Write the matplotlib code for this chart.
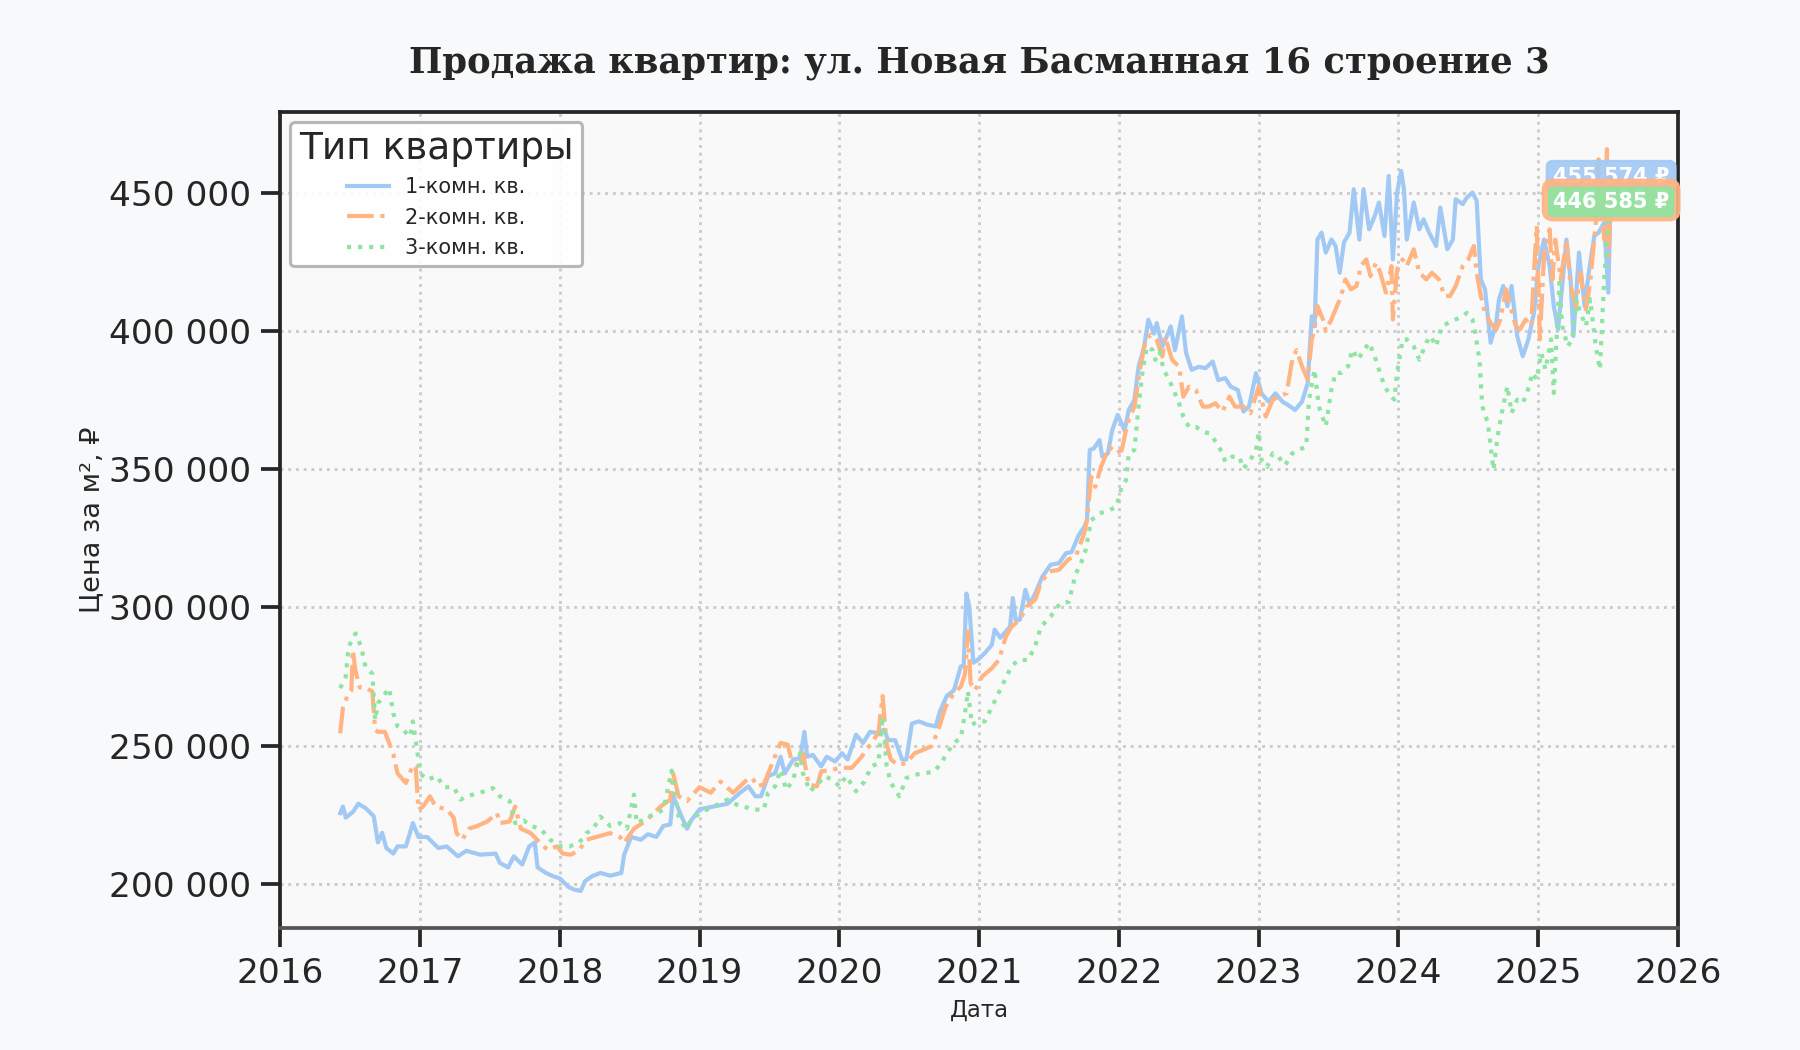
import pandas as pd
import matplotlib
matplotlib.use("Agg")
import matplotlib.pyplot as plt
import matplotlib.dates as mdates
from matplotlib.ticker import FuncFormatter

# --- data (decimal year, price per m2 in thousands RUB) ---
years_1 = [2016.43, 2016.45, 2016.47, 2016.52, 2016.56, 2016.61, 2016.67, 2016.70, 2016.73, 2016.76,
           2016.81, 2016.84, 2016.90, 2016.95, 2016.99, 2017.05, 2017.13, 2017.19, 2017.27, 2017.33,
           2017.43, 2017.54, 2017.57, 2017.63, 2017.67, 2017.73, 2017.78, 2017.82, 2017.84, 2017.90,
           2017.95, 2018.00, 2018.06, 2018.10, 2018.15, 2018.18, 2018.23, 2018.29, 2018.36, 2018.44,
           2018.46, 2018.51, 2018.58, 2018.63, 2018.69, 2018.74, 2018.79, 2018.81, 2018.86, 2018.91,
           2018.94, 2019.00, 2019.10, 2019.20, 2019.29, 2019.35, 2019.40, 2019.44, 2019.49, 2019.54,
           2019.58, 2019.61, 2019.67, 2019.72, 2019.75, 2019.77, 2019.81, 2019.87, 2019.91, 2019.97,
           2020.02, 2020.06, 2020.12, 2020.17, 2020.22, 2020.27, 2020.32, 2020.35, 2020.40, 2020.45,
           2020.48, 2020.52, 2020.57, 2020.63, 2020.69, 2020.72, 2020.77, 2020.82, 2020.87, 2020.89,
           2020.91, 2020.93, 2020.96, 2020.99, 2021.04, 2021.09, 2021.11, 2021.15, 2021.19, 2021.22,
           2021.24, 2021.26, 2021.29, 2021.33, 2021.36, 2021.40, 2021.45, 2021.51, 2021.57, 2021.62,
           2021.66, 2021.71, 2021.75, 2021.77, 2021.79, 2021.82, 2021.86, 2021.88, 2021.92, 2021.95,
           2021.99, 2022.04, 2022.07, 2022.11, 2022.14, 2022.18, 2022.21, 2022.25, 2022.27, 2022.31,
           2022.35, 2022.37, 2022.40, 2022.45, 2022.48, 2022.52, 2022.57, 2022.62, 2022.67, 2022.71,
           2022.76, 2022.80, 2022.85, 2022.89, 2022.93, 2022.98, 2023.02, 2023.07, 2023.12, 2023.17,
           2023.21, 2023.26, 2023.31, 2023.35, 2023.38, 2023.40, 2023.42, 2023.45, 2023.48, 2023.52,
           2023.55, 2023.58, 2023.61, 2023.65, 2023.68, 2023.72, 2023.75, 2023.79, 2023.83, 2023.86,
           2023.90, 2023.93, 2023.96, 2023.99, 2024.02, 2024.04, 2024.06, 2024.11, 2024.15, 2024.18,
           2024.22, 2024.27, 2024.30, 2024.35, 2024.39, 2024.41, 2024.46, 2024.49, 2024.53, 2024.56,
           2024.59, 2024.62, 2024.66, 2024.70, 2024.72, 2024.75, 2024.78, 2024.81, 2024.85, 2024.89,
           2024.93, 2024.97, 2025.00, 2025.04, 2025.08, 2025.11, 2025.14, 2025.17, 2025.20, 2025.23,
           2025.25, 2025.29, 2025.33, 2025.36, 2025.40, 2025.43, 2025.47, 2025.50, 2025.52]
price_1 = [225.6, 228.0, 224.0, 226.0, 229.0, 227.5, 224.5, 215.0, 218.5, 213.0,
           211.0, 213.6, 213.6, 222.0, 217.0, 217.0, 213.0, 213.6, 210.0, 212.0,
           210.6, 211.0, 207.6, 206.0, 210.0, 207.0, 213.6, 215.0, 206.0, 204.0,
           202.8, 202.0, 199.0, 198.0, 197.5, 201.0, 202.8, 204.0, 203.0, 204.0,
           210.6, 217.0, 216.0, 218.0, 217.0, 221.0, 221.5, 232.0, 225.6, 220.0,
           223.0, 227.0, 228.0, 229.0, 233.0, 235.3, 231.7, 231.7, 239.0, 240.0,
           246.0, 240.0, 245.0, 245.5, 255.0, 246.0, 246.7, 242.5, 246.0, 244.3,
           247.3, 245.0, 254.0, 251.0, 255.0, 254.6, 255.8, 252.0, 252.0, 245.0,
           245.0, 258.0, 258.8, 257.6, 257.0, 262.4, 268.0, 270.0, 278.7, 278.7,
           305.0, 300.4, 280.0, 281.0, 283.5, 286.5, 292.0, 289.0, 291.3, 293.0,
           303.4, 295.5, 295.5, 306.4, 301.0, 305.0, 311.0, 315.4, 316.0, 319.6,
           320.0, 326.0, 329.0, 331.5, 356.9, 357.5, 360.5, 354.5, 355.7, 364.0,
           369.6, 364.0, 371.4, 375.0, 387.0, 394.3, 404.0, 399.0, 402.8, 394.3,
           399.0, 401.6, 393.0, 405.2, 392.0, 385.9, 387.0, 386.5, 388.9, 382.2,
           382.9, 379.8, 378.6, 370.8, 372.6, 384.7, 377.4, 374.4, 377.4, 374.4,
           373.2, 371.4, 374.4, 381.0, 405.3, 401.7, 433.0, 435.5, 428.3, 433.0,
           430.7, 421.0, 432.0, 435.5, 451.2, 433.0, 451.2, 436.7, 441.5, 446.4,
           434.3, 456.0, 425.8, 450.0, 457.8, 451.2, 433.0, 446.4, 436.7, 440.3,
           435.5, 430.7, 444.6, 429.5, 433.0, 447.6, 445.8, 448.2, 450.0, 447.0,
           418.6, 415.0, 395.7, 402.9, 411.4, 416.2, 408.9, 416.2, 398.1, 390.8,
           396.9, 406.5, 423.4, 433.0, 423.4, 408.9, 400.5, 416.2, 433.0, 418.6,
           398.1, 428.3, 408.9, 421.0, 434.3, 435.5, 439.1, 413.8, 455.574]

years_2 = [2016.43, 2016.45, 2016.49, 2016.51, 2016.52, 2016.54, 2016.57, 2016.61, 2016.66, 2016.68,
           2016.70, 2016.75, 2016.81, 2016.84, 2016.90, 2016.95, 2016.97, 2016.99, 2017.02, 2017.07,
           2017.11, 2017.19, 2017.24, 2017.26, 2017.30, 2017.35, 2017.41, 2017.48, 2017.55, 2017.57,
           2017.64, 2017.68, 2017.72, 2017.79, 2017.86, 2017.91, 2017.98, 2018.02, 2018.08, 2018.14,
           2018.19, 2018.26, 2018.36, 2018.43, 2018.46, 2018.53, 2018.62, 2018.72, 2018.79, 2018.81,
           2018.85, 2018.91, 2019.00, 2019.08, 2019.15, 2019.24, 2019.34, 2019.38, 2019.41, 2019.46,
           2019.52, 2019.58, 2019.63, 2019.66, 2019.72, 2019.74, 2019.78, 2019.84, 2019.87, 2019.95,
           2020.00, 2020.09, 2020.16, 2020.23, 2020.28, 2020.31, 2020.34, 2020.37, 2020.42, 2020.48,
           2020.54, 2020.60, 2020.66, 2020.71, 2020.76, 2020.82, 2020.87, 2020.90, 2020.92, 2020.94,
           2020.97, 2021.02, 2021.09, 2021.14, 2021.19, 2021.23, 2021.29, 2021.34, 2021.40, 2021.44,
           2021.50, 2021.57, 2021.64, 2021.69, 2021.75, 2021.77, 2021.80, 2021.83, 2021.87, 2021.93,
           2021.98, 2022.02, 2022.06, 2022.11, 2022.15, 2022.19, 2022.23, 2022.27, 2022.31, 2022.33,
           2022.38, 2022.43, 2022.46, 2022.50, 2022.55, 2022.60, 2022.64, 2022.69, 2022.74, 2022.79,
           2022.83, 2022.89, 2022.94, 2023.00, 2023.05, 2023.10, 2023.14, 2023.20, 2023.24, 2023.27,
           2023.31, 2023.35, 2023.38, 2023.40, 2023.42, 2023.46, 2023.48, 2023.52, 2023.55, 2023.59,
           2023.62, 2023.66, 2023.70, 2023.73, 2023.77, 2023.80, 2023.84, 2023.87, 2023.91, 2023.95,
           2023.96, 2023.99, 2024.03, 2024.06, 2024.11, 2024.15, 2024.20, 2024.24, 2024.29, 2024.33,
           2024.37, 2024.41, 2024.46, 2024.50, 2024.54, 2024.56, 2024.59, 2024.62, 2024.66, 2024.70,
           2024.73, 2024.77, 2024.80, 2024.84, 2024.87, 2024.91, 2024.95, 2024.97, 2024.99, 2025.01,
           2025.04, 2025.08, 2025.10, 2025.12, 2025.16, 2025.20, 2025.23, 2025.27, 2025.30, 2025.34,
           2025.37, 2025.41, 2025.43, 2025.47, 2025.49, 2025.50, 2025.52]
price_2 = [254.5, 264.0, 269.0, 270.0, 284.6, 277.0, 271.0, 271.0, 269.6, 255.7,
           255.0, 255.0, 247.0, 240.0, 236.5, 243.0, 242.5, 226.8, 228.0, 231.7,
           228.0, 227.0, 224.0, 218.4, 216.0, 220.0, 221.0, 222.6, 225.6, 222.0,
           222.6, 228.0, 220.0, 218.4, 214.8, 212.4, 213.6, 211.0, 210.6, 212.4,
           216.0, 217.0, 218.4, 217.0, 214.8, 220.0, 223.0, 228.0, 230.5, 240.0,
           231.7, 230.0, 235.0, 233.0, 237.0, 233.0, 237.7, 238.3, 235.3, 236.0,
           243.7, 251.0, 250.4, 244.3, 242.5, 247.3, 236.0, 235.3, 240.7, 241.3,
           242.0, 242.0, 246.0, 251.0, 254.6, 268.0, 250.4, 245.0, 243.0, 243.7,
           247.3, 248.5, 249.8, 255.8, 264.0, 269.0, 271.4, 276.0, 291.3, 272.6,
           270.0, 275.0, 278.0, 281.0, 289.5, 293.0, 295.5, 300.4, 302.8, 308.8,
           313.0, 313.6, 317.5, 318.4, 326.7, 331.5, 347.2, 343.6, 350.8, 358.0,
           355.7, 356.9, 366.5, 372.6, 385.9, 396.7, 398.6, 396.7, 390.7, 397.9,
           389.5, 387.0, 376.2, 379.8, 378.6, 372.6, 372.6, 373.8, 370.8, 376.2,
           372.6, 372.6, 370.2, 379.8, 369.0, 375.0, 376.2, 377.4, 389.5, 393.0,
           387.2, 382.4, 397.0, 400.5, 409.0, 404.1, 400.0, 404.1, 407.7, 412.6,
           418.6, 415.0, 416.2, 423.4, 425.8, 419.8, 424.6, 421.0, 413.8, 423.4,
           404.1, 422.2, 425.8, 423.4, 429.5, 421.0, 418.6, 421.0, 418.6, 412.6,
           412.6, 416.2, 423.4, 425.8, 430.7, 421.0, 412.6, 406.5, 402.9, 400.5,
           404.1, 415.0, 408.9, 401.7, 400.5, 404.1, 401.7, 421.0, 437.9, 396.9,
           427.0, 436.7, 418.6, 433.0, 418.6, 433.0, 416.2, 408.9, 421.0, 407.7,
           417.4, 439.1, 462.0, 433.0, 465.7, 427.0, 447.312]

years_3 = [2016.43, 2016.47, 2016.49, 2016.54, 2016.58, 2016.61, 2016.66, 2016.68, 2016.70, 2016.78,
           2016.81, 2016.84, 2016.88, 2016.93, 2016.95, 2016.98, 2017.00, 2017.05, 2017.12, 2017.17,
           2017.24, 2017.29, 2017.33, 2017.43, 2017.52, 2017.57, 2017.64, 2017.68, 2017.74, 2017.79,
           2017.86, 2017.93, 2018.00, 2018.07, 2018.14, 2018.19, 2018.24, 2018.29, 2018.36, 2018.43,
           2018.48, 2018.53, 2018.55, 2018.64, 2018.74, 2018.80, 2018.85, 2018.90, 2018.94, 2019.00,
           2019.10, 2019.20, 2019.29, 2019.32, 2019.38, 2019.46, 2019.49, 2019.54, 2019.58, 2019.62,
           2019.67, 2019.72, 2019.74, 2019.79, 2019.85, 2019.90, 2019.97, 2020.00, 2020.05, 2020.12,
           2020.18, 2020.23, 2020.28, 2020.31, 2020.34, 2020.37, 2020.43, 2020.48, 2020.54, 2020.61,
           2020.68, 2020.73, 2020.77, 2020.82, 2020.87, 2020.90, 2020.92, 2020.95, 2020.99, 2021.04,
           2021.09, 2021.16, 2021.23, 2021.28, 2021.35, 2021.40, 2021.44, 2021.51, 2021.58, 2021.64,
           2021.69, 2021.72, 2021.76, 2021.80, 2021.86, 2021.93, 2021.98, 2022.02, 2022.05, 2022.07,
           2022.11, 2022.14, 2022.17, 2022.20, 2022.24, 2022.26, 2022.29, 2022.32, 2022.36, 2022.39,
           2022.43, 2022.46, 2022.50, 2022.55, 2022.60, 2022.65, 2022.70, 2022.74, 2022.76, 2022.81,
           2022.86, 2022.89, 2022.94, 2022.98, 2023.00, 2023.02, 2023.06, 2023.10, 2023.14, 2023.19,
           2023.24, 2023.29, 2023.34, 2023.36, 2023.40, 2023.43, 2023.48, 2023.52, 2023.55, 2023.59,
           2023.64, 2023.67, 2023.71, 2023.74, 2023.79, 2023.83, 2023.86, 2023.90, 2023.93, 2023.97,
           2023.99, 2024.03, 2024.06, 2024.11, 2024.15, 2024.20, 2024.23, 2024.27, 2024.31, 2024.36,
           2024.41, 2024.46, 2024.49, 2024.53, 2024.55, 2024.58, 2024.60, 2024.64, 2024.66, 2024.68,
           2024.71, 2024.74, 2024.78, 2024.81, 2024.85, 2024.89, 2024.92, 2024.96, 2024.99, 2025.02,
           2025.05, 2025.09, 2025.11, 2025.15, 2025.17, 2025.21, 2025.24, 2025.27, 2025.30, 2025.34,
           2025.37, 2025.41, 2025.44, 2025.47, 2025.49, 2025.50, 2025.52]
price_3 = [270.8, 275.0, 285.8, 290.6, 285.8, 278.6, 276.0, 259.3, 265.3, 270.8,
           261.7, 257.0, 255.7, 253.3, 258.8, 248.5, 240.0, 237.7, 239.0, 235.0,
           235.0, 230.5, 231.7, 233.0, 234.7, 231.7, 230.0, 222.0, 223.0, 221.0,
           220.0, 216.0, 213.6, 213.6, 215.0, 218.4, 220.0, 224.4, 221.0, 222.0,
           220.0, 232.3, 222.0, 224.4, 226.8, 241.0, 224.4, 220.0, 223.0, 225.6,
           228.0, 230.5, 228.0, 228.0, 226.9, 226.9, 233.0, 235.3, 241.3, 234.0,
           237.7, 247.3, 240.0, 233.5, 236.5, 239.0, 237.0, 235.3, 239.0, 233.5,
           237.0, 242.5, 243.7, 260.6, 242.5, 236.5, 231.7, 238.3, 239.5, 240.0,
           240.7, 243.7, 247.3, 251.0, 252.8, 261.8, 269.7, 257.6, 258.8, 258.8,
           264.0, 271.4, 278.7, 281.0, 281.0, 286.0, 293.0, 296.7, 301.6, 302.0,
           312.2, 315.0, 320.6, 331.5, 334.0, 335.1, 336.4, 343.6, 346.0, 355.7,
           356.9, 372.6, 385.9, 394.3, 393.1, 389.5, 392.5, 385.9, 382.2, 378.6,
           373.8, 369.0, 365.3, 365.3, 363.5, 362.9, 359.3, 355.7, 352.7, 354.5,
           354.5, 350.2, 353.3, 356.9, 363.5, 353.3, 350.8, 355.7, 354.5, 351.4,
           355.7, 357.0, 358.2, 375.1, 386.0, 372.7, 365.5, 378.7, 384.8, 384.8,
           387.2, 393.2, 389.6, 392.0, 395.7, 390.8, 386.0, 380.0, 377.5, 375.1,
           384.8, 396.9, 396.9, 394.4, 389.6, 395.7, 398.1, 394.4, 401.7, 402.9,
           404.1, 405.3, 406.5, 404.1, 399.3, 389.6, 372.7, 366.7, 358.2, 349.8,
           361.8, 370.3, 380.0, 370.3, 375.1, 373.9, 377.5, 384.8, 382.4, 392.0,
           386.0, 396.9, 377.5, 417.4, 401.7, 394.4, 396.9, 411.4, 406.5, 401.7,
           411.4, 394.4, 386.0, 418.6, 433.0, 440.3, 446.585]

labels = ["1-комн. кв.", "2-комн. кв.", "3-комн. кв."]
colors = ["#a1c9f4", "#ffb482", "#8de5a1"]
styles = ["-", "-.", ":"]


def to_dates(years):
    return [pd.Timestamp(f"{int(y)}-01-01") + pd.Timedelta(days=(y - int(y)) * 365.25) for y in years]


def rub(v):
    return f"{v:,.0f}".replace(",", " ")


plt.rcParams["font.family"] = ["DejaVu Sans"]
plt.rcParams["text.color"] = "#262626"
plt.rcParams["axes.labelcolor"] = "#262626"
plt.rcParams["xtick.color"] = "#262626"
plt.rcParams["ytick.color"] = "#262626"

fig = plt.figure(figsize=(12, 7), dpi=150, facecolor="#f8f9fa")
ax = fig.add_axes([0.1556, 0.1162, 0.7767, 0.7771])
ax.set_facecolor("#f9f9f9")

series = [(years_1, price_1), (years_2, price_2), (years_3, price_3)]
for (yrs, vals), lab, col, ls in zip(series, labels, colors, styles):
    ax.plot(to_dates(yrs), [v * 1000 for v in vals], color=col, linestyle=ls, linewidth=2.0, label=lab)

# last-value labels
pads = [0.3, 0.5, 0.2]
for (yrs, vals), col, pad in zip(series, colors, pads):
    last_d = to_dates(yrs)[-1]
    last_v = vals[-1] * 1000
    ax.annotate(f"{rub(last_v)} ₽", xy=(last_d, last_v), ha="center", va="center",
                fontsize=10, fontweight="bold", color="white",
                bbox=dict(boxstyle=f"round,pad={pad}", fc=col, ec=col, alpha=0.9))

ax.set_xlim(pd.Timestamp("2016-01-01"), pd.Timestamp("2026-01-01"))
ax.xaxis.set_major_locator(mdates.YearLocator())
ax.xaxis.set_major_formatter(mdates.DateFormatter("%Y"))
ax.yaxis.set_major_formatter(FuncFormatter(lambda v, p: rub(v)))

ax.grid(True, linestyle=":", color="#cccccc", linewidth=1.4)
ax.tick_params(axis="both", labelsize=16.5, length=9, width=1.8, pad=5)
for side in ["left", "right", "top", "bottom"]:
    ax.spines[side].set_linewidth(1.8)
    ax.spines[side].set_color("#262626")
ax.spines["bottom"].set_color("#555555")

ax.set_title("Продажа квартир: ул. Новая Басманная 16 строение 3", fontsize=17,
             fontweight="bold", family="DejaVu Serif", pad=19)
ax.set_xlabel("Дата", fontsize=11, labelpad=4)
ax.set_ylabel("Цена за м², ₽", fontsize=13, labelpad=1.5)

leg = ax.legend(title="Тип квартиры", loc="upper left", fontsize=10, title_fontsize=18,
                facecolor="white", edgecolor="#b0b0b0", framealpha=0.9)
leg.get_frame().set_linewidth(1.5)

fig.savefig("out.png", dpi=150, facecolor=fig.get_facecolor())
